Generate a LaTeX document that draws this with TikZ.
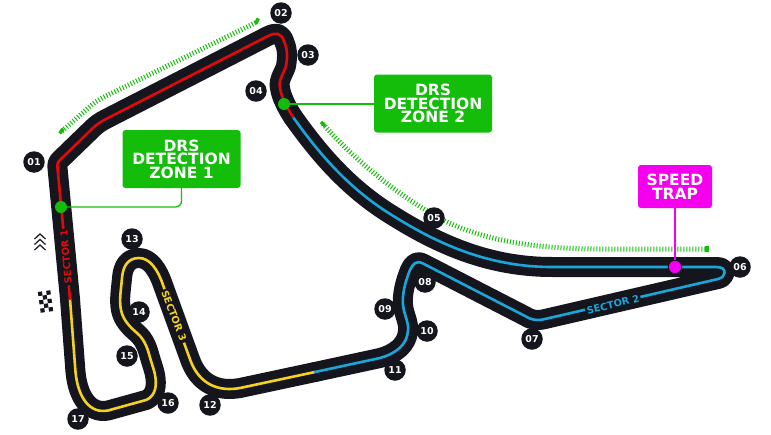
\documentclass[tikz,border=0pt]{standalone}
\usepackage{fontspec}
\setmainfont{DejaVu Sans}
\usepackage{xcolor}
\usetikzlibrary{arrows.meta, positioning, calc}
\definecolor{trackblack}{HTML}{15151E}
\definecolor{sectorred}{HTML}{E10A0A}
\definecolor{sectorblue}{HTML}{1BA6D8}
\definecolor{sectoryellow}{HTML}{F5D21F}
\definecolor{drsgreen}{HTML}{14BD0A}
\definecolor{trapmagenta}{HTML}{F500EE}
% the three sectors, as the cars run
\newcommand{\sectorone}{(70,299) -- (57.5,168) .. controls (57,163) and (58,162) .. (61,159) -- (92,129) .. controls (96,125) and (100,122) .. (106,119) -- (268,36) .. controls (276,32) and (281,33) .. (284,41) .. controls (287,48) and (288,55) .. (286,66) .. controls (284,73) and (278,80) .. (280,88) .. controls (281,96) and (287,108) .. (293,117)}
\newcommand{\sectortwo}{(293,117) .. controls (320,155) and (350,190) .. (395,217) .. controls (440,245) and (490,267) .. (552,267) -- (716,267) .. controls (722,267) and (725,269) .. (724.5,273) .. controls (724,276) and (722,278) .. (718,279) -- (545,319) .. controls (537,321) and (531,320) .. (525,316) -- (423,263.5) .. controls (416,260) and (413,264) .. (410,270) .. controls (405,282) and (402,295) .. (403,305) .. controls (404,315) and (409,322) .. (408,331) .. controls (407,345) and (395,354) .. (380,358) -- (315,372)}
\newcommand{\sectorthree}{(315,372) -- (240,388) .. controls (218,392) and (200,384) .. (191,362) -- (163,285) .. controls (158,270) and (150,258) .. (139,258) .. controls (128,258) and (123,266) .. (122,278) .. controls (121,290) and (119,300) .. (121,310) .. controls (123,320) and (130,327) .. (137,333) .. controls (144,339) and (147,347) .. (149,354) .. controls (152,365) and (155,372) .. (155.5,378) .. controls (157,390) and (153,397) .. (146,400) -- (108,410.5) .. controls (90,414) and (78,398) .. (75.5,372) -- (70,299)}
\begin{document}
\begin{tikzpicture}[
  x=1pt, y=-1pt,
  trackbase/.style={draw=trackblack, line width=20pt, line cap=round, line join=round},
  sectorline/.style={line width=2.6pt, line cap=round},
  turnlabel/.style={circle, fill=trackblack, text=white, minimum size=21.5pt, inner sep=0pt, font=\fontsize{9.5}{9.5}\selectfont\bfseries},
  sectorlabel/.style={fill=trackblack, inner sep=1.5pt, font=\fontsize{9.8}{10}\selectfont\bfseries},
  zonebox/.style={fill=drsgreen, text=white, rounded corners=3pt, minimum width=118pt, minimum height=58pt, inner sep=0pt, align=center, font=\fontsize{15.5}{13.5}\selectfont\bfseries},
  trapbox/.style={zonebox, fill=trapmagenta, minimum width=74pt, minimum height=43pt},
  zonedot/.style={circle, fill=drsgreen, minimum size=12pt, inner sep=0pt},
  trapdot/.style={circle, fill=trapmagenta, draw=trackblack, line width=1pt, minimum size=13.5pt, inner sep=0pt},
  drszone/.style={draw=drsgreen, line width=5pt, dash pattern=on 1pt off 2pt},
  drsend/.style={fill=drsgreen, minimum width=3.5pt, minimum height=6pt, inner sep=0pt},
]
\useasboundingbox (0,0) rectangle (771,434);

% DRS zones
\draw[drszone] (62,131) -- (88,108) .. controls (93,103.5) and (98,100) .. (106,96) -- (257,22);
\draw[drszone] (323,124) .. controls (350,155) and (395,195) .. (447,222) .. controls (490,242) and (540,249) .. (600,249) -- (707,249);
\node[drsend, rotate=-27] (endone) at (257,21) {};
\node[drsend, rotate=-37] (startone) at (61.5,131) {};
\node[drsend, rotate=45] (starttwo) at (323,124) {};
\node[drsend] (endtwo) at (707,249) {};

% track
\draw[trackbase] \sectorone;
\draw[trackbase] \sectortwo;
\draw[trackbase] \sectorthree;
\draw[sectorline, sectoryellow] \sectorthree;
\draw[sectorline, sectorblue] \sectortwo;
\draw[sectorline, sectorred] \sectorone;

\node[sectorlabel, text=sectorred, rotate=95] (labelone) at (66,257) {SECTOR 1};
\node[sectorlabel, text=sectorblue, rotate=14] (labeltwo) at (613,304.5) {SECTOR 2};
\node[sectorlabel, text=sectoryellow, rotate=-69] (labelthree) at (174,316) {SECTOR 3};

% turns
\node[turnlabel] (t01) at (34,162) {01};
\node[turnlabel] (t02) at (281,13) {02};
\node[turnlabel] (t03) at (308,55) {03};
\node[turnlabel] (t04) at (256,91) {04};
\node[turnlabel] (t05) at (434,218) {05};
\node[turnlabel] (t06) at (740,267) {06};
\node[turnlabel] (t07) at (532,339) {07};
\node[turnlabel] (t08) at (425,282) {08};
\node[turnlabel] (t09) at (385,309) {09};
\node[turnlabel] (t10) at (427,331) {10};
\node[turnlabel] (t11) at (395,370) {11};
\node[turnlabel] (t12) at (210,405) {12};
\node[turnlabel] (t13) at (132,239) {13};
\node[turnlabel] (t14) at (139,312) {14};
\node[turnlabel] (t15) at (127,356) {15};
\node[turnlabel] (t16) at (168,403) {16};
\node[turnlabel] (t17) at (78,419) {17};

% detection boxes
\node[zonedot] (dotone) at (61,207) {};
\node[zonedot] (dottwo) at (284,104) {};
\node[trapdot] (dottrap) at (675,267) {};
\node[zonebox] (zoneone) at (181.5,159) {DRS\\DETECTION\\ZONE 1};
\node[zonebox] (zonetwo) at (433,103.5) {DRS\\DETECTION\\ZONE 2};
\node[trapbox] (trap) at (675,186.5) {SPEED\\TRAP};
\draw[drsgreen, line width=1.3pt, rounded corners=6pt] (zoneone.south) |- (dotone);
\draw[drsgreen, line width=1.3pt] (zonetwo.west |- dottwo) -- (dottwo);
\draw[trapmagenta, line width=1.3pt] (trap) -- (dottrap);

% start chevrons and flag
\foreach \ypos in {234,239.5,245}
  \draw[trackblack, line width=1.2pt] (34.5,\ypos+5) -- (40,\ypos) -- (45.5,\ypos+5);
\begin{scope}[shift={(45.5,301.5)}, rotate=8]
  \foreach \col in {0,1,2}
    \foreach \row in {0,1,2,3,4} {
      \pgfmathparse{int(mod(\col+\row,2))}
      \ifnum\pgfmathresult=0
        \fill[trackblack] (\col*4.2-6.3,\row*4.2-10.5) rectangle ++(4.2,4.2);
      \fi
    }
\end{scope}
\end{tikzpicture}
\end{document}
